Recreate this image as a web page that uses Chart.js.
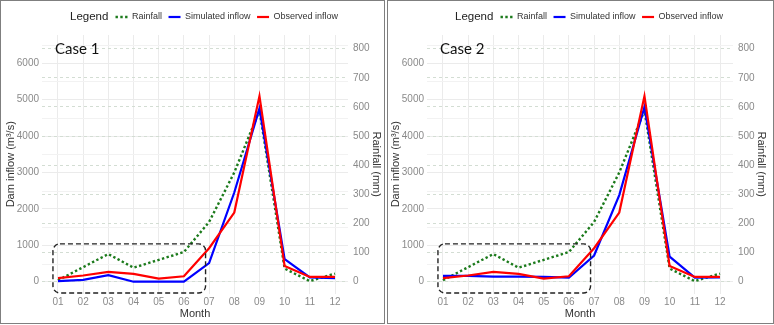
<!DOCTYPE html>
<html>
<head>
    <meta charset="UTF-8">
    <title>Dam inflow - Case 1 / Case 2</title>
    <script src="https://cdn.jsdelivr.net/npm/chart.js@4.4.1/dist/chart.umd.min.js"></script>
    <style>
        body { margin: 0; background: #fff; }
        .wrap { position: absolute; top: 1px; width: 383px; height: 322px; }
        .frame { position: absolute; top: 0; height: 322px; border: 1px solid #7f7f7f; pointer-events: none; }
    </style>
</head>
<body>
    <div class="wrap" style="left:1px"><canvas id="case1" width="383" height="322"></canvas></div>
    <div class="wrap" style="left:386px"><canvas id="case2" width="383" height="322"></canvas></div>
    <div class="frame" style="left:0; width:383px"></div>
    <div class="frame" style="left:387px; width:385px"></div>
    <script>

        const months = ['01', '02', '03', '04', '05', '06', '07', '08', '09', '10', '11', '12'];
        const rainfall = [5, 50, 95, 48, 75, 102, 205, 375, 588, 45, 2, 28];          // mm, right axis
        const observed = [100, 170, 270, 215, 85, 150, 920, 1900, 5100, 430, 130, 130]; // m3/s
        const simulated1 = [15, 50, 180, 0, 0, 0, 510, 2450, 4760, 620, 120, 100];
        const simulated2 = [160, 160, 140, 140, 130, 110, 720, 2380, 4800, 690, 110, 120];
        const inflowTicks = [0, 1000, 2000, 3000, 4000, 5000, 6000];
        const minorInflow = [500, 1500, 2500, 3500, 4500, 5500, 6500];
        const rainTicks = [0, 100, 200, 300, 400, 500, 600, 700, 800];

        // rainfall axis = inflow axis / 8
        const mmFactor = 8;
        const inflowMin = -324, inflowMax = 6777;
        // dashed highlight box, in month / inflow units
        const boxMonths = [0.8, 6.86];
        const boxInflow = [-310, 1040];

        const grey = '#8a8a8a';
        const dark = '#333';
        const fontName = '"Liberation Sans", Arial, sans-serif';
        const rainDash = [2.4, 2.4];

        function points(values) {
            return values.map((v, i) => ({ x: i + 1, y: v }));
        }

        const extras = {
            id: 'extras',
            beforeLayout(chart) {
                const legend = chart.legend;
                if (legend._baseFit) return;
                legend._baseFit = legend.fit;
                legend.fit = function () {
                    this._baseFit();
                    this.height = 29;
                    this.lineWidths[0] = 6.5 + chart.width - 2 * 69;
                };
            },
            beforeDatasetsDraw(chart) {
                // faint minor grid lines of the inflow axis
                const { ctx, chartArea, scales: { y } } = chart;
                ctx.save();
                ctx.strokeStyle = '#f2f2f2';
                ctx.lineWidth = 1;
                minorInflow.forEach(v => {
                    const py = Math.round(y.getPixelForValue(v)) + 0.5;
                    ctx.beginPath();
                    ctx.moveTo(chartArea.left, py);
                    ctx.lineTo(chartArea.right, py);
                    ctx.stroke();
                });
                ctx.restore();
            },
            afterDatasetsDraw(chart, args, opts) {
                const { ctx, scales: { x, y } } = chart;
                const l = x.getPixelForValue(boxMonths[0]), r = x.getPixelForValue(boxMonths[1]);
                const t = y.getPixelForValue(boxInflow[1]), b = y.getPixelForValue(boxInflow[0]);
                ctx.save();
                ctx.strokeStyle = '#222';
                ctx.lineWidth = 1.4;
                ctx.setLineDash([5, 3]);
                ctx.beginPath();
                ctx.roundRect(l, t, r - l, b - t, 7);
                ctx.stroke();
                ctx.restore();
            },
            afterDraw(chart, args, opts) {
                const { ctx, scales: { x, y } } = chart;
                ctx.save();
                ctx.textBaseline = 'middle';
                ctx.textAlign = 'left';
                ctx.fillStyle = '#111';
                ctx.font = '15px Lato, sans-serif';
                ctx.fillText(opts.label, x.getPixelForValue(0.88), y.getPixelForValue(6393));
                const hb = chart.legend.legendHitBoxes[0];
                ctx.fillStyle = '#222';
                ctx.font = '11.5px ' + fontName;
                ctx.fillText('Legend', hb.left, hb.top + hb.height / 2);
                ctx.restore();
            }
        };

        function makeChart(id, label, simulated) {
            return new Chart(document.getElementById(id), {
                type: 'line',
                data: {
                    datasets: [{
                        label: 'Rainfall',
                        data: points(rainfall),
                        yAxisID: 'y1',
                        borderColor: '#1b7a1b',
                        borderWidth: 2.4,
                        borderDash: rainDash,
                        pointRadius: 0,
                        pointStyle: 'line',
                        order: 2
                    }, {
                        label: 'Simulated inflow',
                        data: points(simulated),
                        yAxisID: 'y',
                        borderColor: '#0000ff',
                        borderWidth: 2.2,
                        pointRadius: 0,
                        pointStyle: 'line',
                        order: 1
                    }, {
                        label: 'Observed inflow',
                        data: points(observed),
                        yAxisID: 'y',
                        borderColor: '#ff0000',
                        borderWidth: 2.2,
                        pointRadius: 0,
                        pointStyle: 'line',
                        order: 0
                    }]
                },
                options: {
                    responsive: false,
                    animation: false,
                    events: [],
                    layout: { padding: { top: 5 } },
                    plugins: {
                        tooltip: { enabled: false },
                        extras: { label: label },
                        legend: {
                            position: 'top',
                            labels: {
                                usePointStyle: true,
                                pointStyleWidth: 12,
                                padding: 6.5,
                                color: dark,
                                font: { family: fontName, size: 9 },
                                generateLabels(chart) {
                                    const items = Chart.defaults.plugins.legend.labels.generateLabels(chart);
                                    items.sort((a, b) => a.datasetIndex - b.datasetIndex);
                                    items.forEach(item => {
                                        const ds = chart.data.datasets[item.datasetIndex];
                                        item.strokeStyle = ds.borderColor;
                                        item.lineWidth = ds.borderWidth;
                                        item.lineDash = ds.borderDash || [];
                                    });
                                    items.unshift({
                                        text: ' '.repeat(9),
                                        fontColor: 'rgba(0,0,0,0)',
                                        fillStyle: 'rgba(0,0,0,0)',
                                        strokeStyle: 'rgba(0,0,0,0)',
                                        lineWidth: 0,
                                        pointStyle: 'line',
                                        hidden: false,
                                        datasetIndex: -1
                                    });
                                    return items;
                                }
                            }
                        }
                    },
                    scales: {
                        x: {
                            type: 'linear',
                            min: 0.365,
                            max: 12.516,
                            afterBuildTicks: s => { s.ticks = months.map((m, i) => ({ value: i + 1 })); },
                            ticks: {
                                autoSkip: false,
                                maxRotation: 0,
                                padding: 3,
                                color: grey,
                                font: { family: fontName, size: 10 },
                                callback: v => months[v - 1]
                            },
                            grid: { color: '#ebebeb', drawTicks: false },
                            border: { display: false },
                            title: { display: true, text: 'Month', color: dark, font: { family: fontName, size: 11 }, padding: { top: 0, bottom: 2.4 } },
                            afterFit: s => { s.height = 29.5; }
                        },
                        y: {
                            position: 'left',
                            min: inflowMin,
                            max: inflowMax,
                            afterBuildTicks: s => { s.ticks = inflowTicks.map(v => ({ value: v })); },
                            ticks: {
                                autoSkip: false,
                                padding: 3,
                                color: grey,
                                font: { family: fontName, size: 10 },
                                callback: v => String(v)
                            },
                            grid: { color: '#ebebeb', drawTicks: false },
                            border: { display: false },
                            title: { display: true, text: 'Dam inflow (m³/s)', color: dark, font: { family: fontName, size: 11 }, padding: { top: 3.4 } },
                            afterFit: s => { s.width = 41; }
                        },
                        y1: {
                            position: 'right',
                            min: inflowMin / mmFactor,
                            max: inflowMax / mmFactor,
                            afterBuildTicks: s => { s.ticks = rainTicks.map(v => ({ value: v })); },
                            ticks: {
                                autoSkip: false,
                                padding: 5,
                                color: grey,
                                font: { family: fontName, size: 10 },
                                callback: v => String(v)
                            },
                            grid: { color: '#d3ddd3', drawTicks: false },
                            border: { display: false, dash: [3, 3] },
                            title: { display: true, text: 'Rainfall (mm)', color: dark, font: { family: fontName, size: 11 }, padding: { top: 1.4 } },
                            afterFit: s => { s.width = 36; }
                        }
                    }
                },
                plugins: [extras]
            });
        }

        makeChart('case1', 'Case 1', simulated1);
        makeChart('case2', 'Case 2', simulated2);

    </script>
</body>
</html>
